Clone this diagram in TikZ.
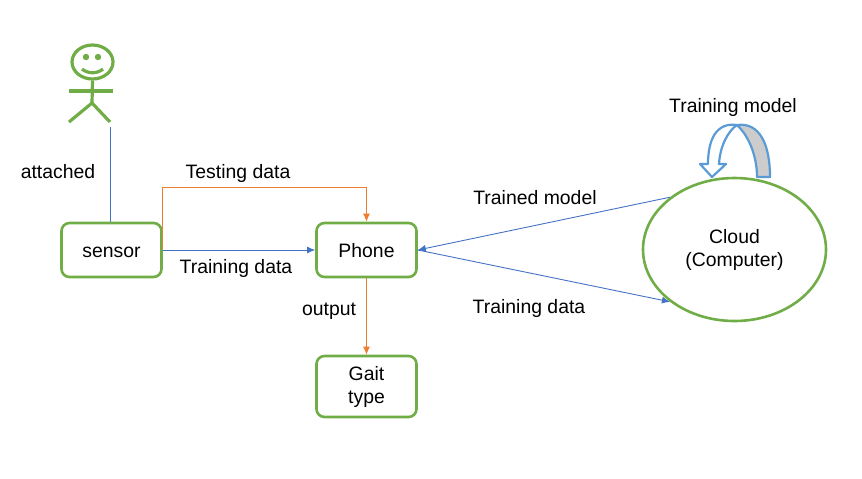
\documentclass[tikz,border=0pt]{standalone}
\usepackage{fontspec}
\setmainfont{Liberation Sans}
\usetikzlibrary{positioning}
\usetikzlibrary{shapes.geometric}
\usetikzlibrary{arrows.meta}
\definecolor{boxgreen}{HTML}{70AD47}
\definecolor{lineblue}{HTML}{4472C4}
\definecolor{lineorange}{HTML}{ED7D31}
\definecolor{loopblue}{HTML}{5B9BD5}
\tikzset{
  box/.style={draw=boxgreen,line width=1.3pt,rounded corners=4pt,minimum width=50pt,minimum height=27pt,align=center,font=\fontsize{9.7}{11.5}\selectfont,inner sep=0pt,execute at begin node={\rule{0pt}{8pt}}},
  twoline/.style={execute at begin node={\rule{0pt}{11pt}}},
  lab/.style={font=\fontsize{9.7}{11.5}\selectfont,inner sep=0pt},
  blueline/.style={draw=lineblue,line width=0.45pt,-{Latex[length=4pt,width=3.5pt]}},
  orangeline/.style={draw=lineorange,line width=0.45pt,-{Latex[length=4pt,width=3.5pt]}},
  limb/.style={draw=boxgreen,line width=1.6pt},
  loopband/.style={draw=loopblue,line width=1.1pt,line join=round}
}
\begin{document}
\begin{tikzpicture}[x=0.5pt,y=-0.5pt]
\useasboundingbox (0,0) rectangle (862,478);
% boxes
\node[box] (sensor) at (111.5,250) {sensor};
\node[box] (phone) at (366.5,250) {Phone};
\node[box,twoline,minimum height=30.5pt] (gait) at (366.5,386.5) {Gait\\type};
\node[box,twoline,ellipse,minimum width=91.5pt,minimum height=71.5pt] (cloud) at (734.5,249.5) {Cloud\\(Computer)};
% person
\node[draw=boxgreen,line width=1.6pt,ellipse,minimum width=20.5pt,minimum height=17pt,inner sep=0pt] (head) at (92.5,62) {};
\fill[boxgreen] (86,57) circle (3.2);
\fill[boxgreen] (98,57) circle (3.2);
\draw[limb] (82,69) .. controls (88,74) and (97,74) .. (103,69);
\coordinate (hip) at (92,103);
\coordinate (footl) at (69,122);
\coordinate (footr) at (110,122);
\coordinate (foot) at (110,127);
\draw[limb] (head.south) -- (hip);
\draw[limb] (69,91) -- (113,91);
\draw[limb] (footl) -- (hip) -- (footr);
% connectors
\draw[draw=lineblue,line width=0.45pt] (foot) -- (foot|-sensor.north);
\draw[orangeline] (sensor.east) -- ++(0,-63) -| (phone.north);
\draw[blueline] (sensor.east) -- (phone.west);
\draw[orangeline] (phone.south) -- (gait.north);
\draw[blueline] (cloud.141) -- (phone.east);
\draw[blueline] (phone.east) -- (cloud.219);
% loop arrow on the cloud
\draw[loopband,fill=white] (737,125) .. controls (716,122) and (708,140) .. (708,164) -- (700,164) -- (712,177) -- (726,164) -- (719,164) .. controls (720,146) and (728,131) .. (737,125) -- cycle;
\draw[loopband,fill=black!20] (737,125) .. controls (760,122) and (770,145) .. (770,177) -- (757,177) .. controls (757,155) and (748,135) .. (737,125) -- cycle;
% labels
\node[lab] (attached) at (58,172) {attached};
\node[lab] (testing) at (238,173) {Testing data};
\node[lab] (trainleft) at (236,268) {Training data};
\node[lab] (output) at (329,311) {output};
\node[lab] (trained) at (535,198) {Trained model};
\node[lab] (trainright) at (529,308) {Training data};
\node[lab] (looplab) at (733,107) {Training model};
\end{tikzpicture}
\end{document}
